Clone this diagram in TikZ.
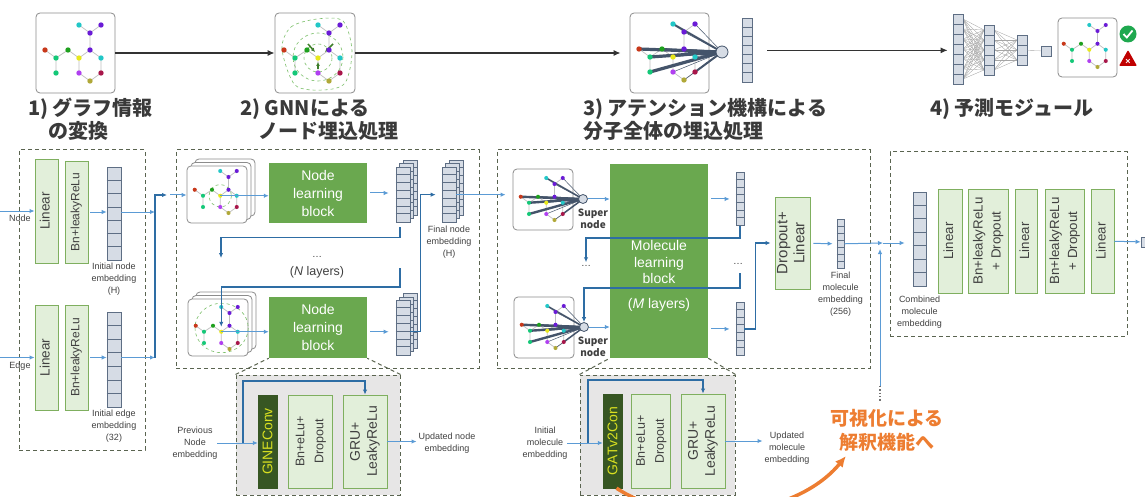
\documentclass[tikz,border=0pt]{standalone}
\usepackage{fontspec}
\usepackage{graphicx}
\setmainfont{Liberation Sans}
\newfontfamily\jpfont{Noto Sans CJK JP}
\usetikzlibrary{arrows.meta,positioning}

\definecolor{grpline}{HTML}{5A6450}
\definecolor{lgreen}{HTML}{E2EFDA}
\definecolor{lgreenline}{HTML}{7FAF5F}
\definecolor{mgreen}{HTML}{6AA84F}
\definecolor{dgreen}{HTML}{375623}
\definecolor{convtxt}{HTML}{D9E021}
\definecolor{vecfill}{HTML}{D6DCE5}
\definecolor{vecline}{HTML}{5E6E84}
\definecolor{lblue}{HTML}{5B9BD5}
\definecolor{dblue}{HTML}{2E6DA4}
\definecolor{ttlgray}{HTML}{3A3A3A}
\definecolor{txtgray}{HTML}{404040}
\definecolor{vizorange}{HTML}{ED7D31}
\definecolor{shade}{HTML}{E7E6E6}
\definecolor{cardline}{HTML}{8C8C8C}
\definecolor{spoke}{HTML}{44546A}
\definecolor{halogreen}{HTML}{7CC06A}
\definecolor{pullgreen}{HTML}{3E7E2A}
\definecolor{okgreen}{HTML}{1FA84F}
\definecolor{ngred}{HTML}{C00000}
% atom colours
\definecolor{acyan}{HTML}{22C7C7}
\definecolor{aviolet}{HTML}{6A1BD6}
\definecolor{ared}{HTML}{C8381A}
\definecolor{agreen}{HTML}{1EA01E}
\definecolor{amint}{HTML}{14C878}
\definecolor{ayellow}{HTML}{E8E81C}
\definecolor{amagenta}{HTML}{B040F0}
\definecolor{amaroon}{HTML}{A8164A}
\definecolor{aolive}{HTML}{B0A838}

\newcommand{\fsz}[2]{\fontsize{#1}{#2}\selectfont}
\newcommand{\vlabel}[1]{\rotatebox{90}{\begin{tabular}{@{}c@{}}#1\end{tabular}}}

\tikzset{
  >={Latex[length=5pt,width=4.5pt]},
  grp/.style={draw=grpline, line width=1pt, dash pattern=on 4pt off 3pt, inner sep=0pt},
  zoombox/.style={grp, fill=shade},
  lbox/.style={draw=lgreenline, fill=lgreen, line width=0.9pt, inner sep=0pt, text=txtgray},
  gblock/.style={fill=mgreen, text=white, inner sep=0pt, align=center, font=\fsz{14}{18}},
  conv/.style={fill=dgreen, draw=dgreen, text=convtxt, inner sep=0pt, font=\fsz{14}{16}},
  vec/.style={draw=vecline, fill=vecfill, line width=0.7pt, inner sep=0pt},
  card/.style={draw=cardline, fill=white, rounded corners=4pt, line width=0.8pt, inner sep=0pt},
  snode/.style={circle, draw=spoke, fill=vecfill, line width=0.8pt, inner sep=0pt},
  flow/.style={->, draw=lblue, line width=1pt},
  ret/.style={->, draw=dblue, line width=1.4pt},
  skipln/.style={->, draw=dblue, line width=1.1pt},
  topflow/.style={-{Latex[length=7pt,width=6pt]}, draw=black!80, line width=1.2pt},
  note/.style={font=\fsz{9}{12}, text=txtgray, align=center, inner sep=0pt},
  snlbl/.style={font=\jpfont\bfseries\fsz{10}{12.5}, text=txtgray, align=center, inner sep=0pt},
  ttl/.style={font=\jpfont\bfseries\fsz{20}{23}, text=ttlgray, align=left, anchor=north west, inner sep=0pt},
  vizlbl/.style={font=\jpfont\bfseries\fsz{19}{24}, text=vizorange, align=center, inner sep=0pt},
  viz/.style={-{Latex[length=11pt,width=10pt]}, draw=vizorange, line width=3.5pt},
  bond/.style={draw=black!25, line width=0.7pt},
  nnline/.style={draw=black!35, line width=0.35pt},
  halo/.style={draw=halogreen, dashed, line width=0.6pt},
  pull/.style={-{Latex[length=4pt,width=4pt]}, draw=pullgreen, line width=1.5pt},
}

% column of embedding cells: name, centre x, top y, width, cell height, cells
\newcommand{\cellcol}[6]{%
  \node[vec, minimum width=#4, minimum height=#5*#6, anchor=north] (#1) at (#2,#3) {};
  \foreach \k in {1,...,#6}{%
    \ifnum\k<#6\relax
      \draw[vecline, line width=0.7pt] ([yshift=-\k*#5pt]#1.north west) -- ([yshift=-\k*#5pt]#1.north east);
    \fi}}
% three stacked columns, front one named
\newcommand{\stackcol}[3]{%
  \cellcol{#1c}{#2+7}{#3-7}{14}{7.8}{7}
  \cellcol{#1b}{#2+3.5}{#3-3.5}{14}{7.8}{7}
  \cellcol{#1}{#2}{#3}{14}{7.8}{7}}
% three stacked graph cards, front one named
\newcommand{\cardstack}[3]{%
  \node[card, minimum width=60, minimum height=57] (#1c) at (#2+8,#3-7) {};
  \node[card, minimum width=60, minimum height=57] (#1b) at (#2+4,#3-3.5) {};
  \node[card, minimum width=60, minimum height=57] (#1) at (#2,#3) {};}
% small molecule graph: origin x, origin y, scale, name of centre atom, extra drawing under the atoms
\newcommand{\molgraph}[5]{%
  \begin{scope}[shift={(#1,#2)}, scale=#3]
    \draw[bond] (43,12) -- (54,20) -- (65,12) (54,20) -- (54,37) -- (43,45) -- (32,37) -- (20,45) -- (9,37)
      (20,45) -- (20,60) (43,45) -- (43,60) -- (54,68) -- (65,60) -- (65,45) -- (54,37);
    #5
    \foreach \ax/\ay/\ac in {43/12/acyan, 65/12/aviolet, 54/20/aviolet, 9/37/ared, 32/37/agreen,
        54/37/aviolet, 20/45/amint, 43/45/ayellow, 65/45/acyan, 20/60/amint, 43/60/amagenta,
        65/60/amaroon, 54/68/aolive}
      \fill[\ac] (\ax,\ay) circle (2.7);
    \coordinate (#4) at (43,45);
  \end{scope}}
% graph with attention spokes to a super node
\newcommand{\attngraph}[6]{%
  \molgraph{#1}{#2}{#3}{#6}{%
    \draw[draw=spoke, line width=#3*3.2pt] (9,37) -- (92,40) (20,45) -- (92,40) (20,60) -- (92,40);
    \draw[draw=spoke, line width=#3*2pt] (43,12) -- (92,40) (32,37) -- (92,40) (65,60) -- (92,40);
    \draw[draw=spoke, line width=0.5pt] (65,12) -- (92,40) (54,20) -- (92,40) (54,37) -- (92,40)
      (43,45) -- (92,40) (65,45) -- (92,40) (43,60) -- (92,40) (54,68) -- (92,40);
    \node[snode, minimum size=#5] (#4) at (92,40) {};}}

\begin{document}
\begin{tikzpicture}[x=1pt, y=-1pt]
  \useasboundingbox (0,0) rectangle (1145,497);

  % ---------- overview row ----------
  \node[card, minimum width=79, minimum height=80] (icon1) at (75.5,53) {};
  \molgraph{36}{13}{1}{g1}{}
  \node[card, minimum width=80, minimum height=80] (icon2) at (315,53) {};
  \molgraph{275}{13}{1}{g2}{%
    \draw[halo] (43,45) circle (14);
    \draw[halo] (43,44) circle [x radius=25, y radius=24];
    \draw[halo] plot[smooth cycle] coordinates {(7,36) (16,14) (42,6) (68,8) (77,38) (70,70) (48,77) (20,72)};
    \draw[pull] (33,31) -- (40,39);
    \draw[pull] (58,31) -- (50,39);
    \draw[pull] (43,56) -- (43,49);}
  \node[card, minimum width=79, minimum height=80] (icon3) at (669.5,53) {};
  \attngraph{630}{12}{1}{sntop}{12}{g3}
  \cellcol{topvec}{747}{18}{10}{9.14}{7}

  \foreach \i in {0,...,6}
    \foreach \j in {0,...,4}
      \draw[nnline] (963,19+10*\i) -- (984,30+10*\j);
  \foreach \i in {0,...,4}
    \foreach \j in {0,...,2}
      \draw[nnline] (994,30+10*\i) -- (1017,40+10*\j);
  \cellcol{nn1}{958}{14}{10}{10}{7}
  \cellcol{nn2}{989}{25}{10}{10}{5}
  \cellcol{nn3}{1022}{35}{10}{10}{3}
  \node[vec, minimum size=10] (nnout) at (1046,51) {};
  \draw[nnline] (nn3) -- (nnout);
  \node[card, minimum width=59, minimum height=59] (icon4) at (1087.5,47.5) {};
  \molgraph{1057}{16}{0.75}{g4}{}

  \node[circle, fill=okgreen, minimum size=17, inner sep=0pt] (okmark) at (1128,34) {};
  \draw[white, line width=1.8pt] ([shift={(-4.5,0)}]okmark.center) -- ([shift={(-1.2,3.5)}]okmark.center) -- ([shift={(4.5,-3.5)}]okmark.center);
  \coordinate (ngmark) at (1128,59);
  \fill[ngred, rounded corners=1pt] ([shift={(-9,7)}]ngmark) -- ([shift={(0,-9)}]ngmark) -- ([shift={(9,7)}]ngmark) -- cycle;
  \node[text=white, font=\bfseries\fsz{9}{9}, inner sep=0pt] (ngx) at ([yshift=-2.5pt]ngmark) {×};

  \draw[topflow] (icon1) -- (icon2);
  \draw[topflow, shorten >=9pt] (icon2) -- (icon3);
  \draw[topflow, shorten <=15pt, shorten >=5pt] (topvec) -- (topvec -| nn1.west);

  \node[ttl] (ttl1) at (28,98) {1) グラフ情報\\\hspace*{20pt}の変換};
  \node[ttl] (ttl2) at (240,98) {2) GNNによる\\\hspace*{18pt}ノード埋込処理};
  \node[ttl] (ttl3) at (583,98) {3) アテンション機構による\\分子全体の埋込処理};
  \node[ttl] (ttl4) at (930,98) {4) 予測モジュール};

  % ---------- input encoding ----------
  \node[grp, minimum width=126, minimum height=300] (encbox) at (82,300) {};
  \node[lbox, minimum width=23, minimum height=104, font=\fsz{13.5}{16}] (lin1) at (46.5,211) {\vlabel{Linear}};
  \node[lbox, minimum width=23, minimum height=102, font=\fsz{12}{14}] (bn1) at (76.5,212) {\vlabel{Bn+leakyReLu}};
  \cellcol{nvec}{114}{167}{14}{13.3}{7}
  \node[note, below=2pt of nvec] (nveclbl) {Initial node\\embedding\\(H)};
  \coordinate (nodein) at (0,211);
  \node[note] (nodelbl) at (20,218) {Node};
  \draw[flow] (nodein) -- (lin1);
  \draw[flow, shorten <=2pt] (bn1.east) -- (bn1.east -| nvec.west);

  \node[lbox, minimum width=23, minimum height=105, font=\fsz{13.5}{16}] (lin2) at (46.5,357.5) {\vlabel{Linear}};
  \node[lbox, minimum width=23, minimum height=105, font=\fsz{12}{14}] (bn2) at (76.5,357.5) {\vlabel{Bn+leakyReLu}};
  \cellcol{evec}{114}{312}{14}{13.6}{7}
  \node[note, below=2pt of evec] (evecLbl) {Initial edge\\embedding\\(32)};
  \coordinate (edgein) at (0,357.5);
  \node[note] (edgelbl) at (20,366) {Edge};
  \draw[flow] (edgein) -- (lin2);
  \draw[flow, shorten <=2pt] (bn2.east) -- (bn2.east -| evec.west);

  \coordinate (joinhi) at (155,195);
  \coordinate (joinlo) at (155,357.5);
  \draw[flow] (nvec.east |- bn1) -- (joinhi |- bn1);
  \draw[flow] (evec.east |- bn2) -- (joinlo);
  \draw[ret] (joinlo) -- (joinhi) -- ++(12,0);

  % ---------- GNN layers ----------
  \node[grp, minimum width=303, minimum height=218] (gnnbox) at (327.5,259) {};
  \cardstack{cardb1}{217}{194.5}
  \molgraph{188}{162}{0.75}{ctr1}{\draw[halo] (43,45) circle (15);}
  \draw[flow] ([xshift=15pt]joinhi) -- (joinhi -| cardb1.west);
  \node[gblock, minimum width=98, minimum height=60] (nlb1) at (318,193) {Node\\learning\\block};
  \draw[flow] (ctr1) -- (ctr1 -| nlb1.west);
  \stackcol{sv1}{403}{167}
  \draw[flow, shorten <=3pt, shorten >=7pt] (nlb1.east) -- (nlb1.east -| sv1.west);

  \node[note, font=\fsz{10}{12}] (ndots) at (317,257) {\ldots};
  \node[note, font=\fsz{12.5}{15}] (nlayers) at (317,272) {(\textit{N} layers)};

  \cardstack{cardb2}{218}{327.5}
  \molgraph{189}{298}{0.75}{ctr2}{\draw[halo] (43.5,40) circle [x radius=35.5, y radius=33];}
  \node[gblock, minimum width=98, minimum height=61] (nlb2) at (318,327.5) {Node\\learning\\block};
  \draw[flow] (ctr2) -- (ctr2 -| nlb2.west);
  \stackcol{sv2}{403}{300}
  \draw[flow, shorten <=3pt, shorten >=7pt] (nlb2.east |- ctr2) -- (ctr2 -| sv2.west);

  \stackcol{fnv}{449}{167}
  \node[note, below=3pt of fnv] (fnvlbl) {Final node\\embedding\\(H)};
  \draw[ret, shorten >=6pt] (sv2.east |- ctr2) -- ++(10,0) |- (fnv.west);

  \coordinate (nloopend) at (221,258);
  \coordinate (nret) at (400,268);
  \draw[ret] (sv1.south) ++(-3,5) -- ++(0,10) -| (nloopend);
  \draw[ret, shorten >=5pt] (nret) -- ++(0,19) -| (ctr2);

  % ---------- molecule attention ----------
  \node[grp, minimum width=373, minimum height=218] (molbox) at (683.5,259) {};
  \node[card, minimum width=60, minimum height=61] (cardc1) at (543,199.5) {};
  \attngraph{514}{169}{0.75}{sn1}{9}{gc1}
  \node[snlbl] (sn1lbl) at (593,219) {Super\\node};
  \draw[flow, shorten >=7pt] (fnv.east) -- (fnv.east -| cardc1.west);

  \node[card, minimum width=60, minimum height=61] (cardc2) at (544,327.5) {};
  \attngraph{515}{297}{0.75}{sn2}{9}{gc2}
  \node[snlbl] (sn2lbl) at (593,347) {Super\\node};

  \node[gblock, minimum width=98, minimum height=194] (mlb) at (659,261) {};
  \node[gblock, fill=none, font=\fsz{14}{16.5}] (mlbtxt) at (659,276) {Molecule\\learning\\block\\[8pt](\textit{M} layers)};
  \draw[flow] (sn1) -- (sn1 -| mlb.west);
  \draw[flow] (sn2) -- (sn2 -| mlb.west);

  \cellcol{mv1}{740}{172}{8}{7.6}{7}
  \cellcol{mv2}{740}{302}{8}{7.6}{7}
  \draw[flow, shorten <=3pt, shorten >=6pt] (mlb.east |- mv1) -- (mv1);
  \draw[flow, shorten <=3pt, shorten >=6pt] (mlb.east |- mv2) -- (mv2);
  \node[note, font=\fsz{10}{12}] (mdotsl) at (586,266) {\ldots};
  \node[note, font=\fsz{10}{12}] (mdotsr) at (738,264) {\ldots};
  \coordinate (mret) at (740,273);
  \draw[ret, shorten >=3pt] (mv1.south) -- ++(0,12) -| (mdotsl.north);
  \draw[ret] (mret) -- ++(0,15) -| (sn2.north);

  \node[lbox, minimum width=35, minimum height=92, font=\fsz{15}{17}] (dl) at (792.5,243) {\vlabel{Dropout+\\Linear}};
  \draw[ret, shorten >=4pt] (mv2.east) -- ++(11,0) |- (dl.west);
  \cellcol{fmv}{840.5}{219}{7}{7}{7}
  \draw[flow, shorten <=3pt, shorten >=4pt] (dl) -- (fmv);
  \node[note, below=3pt of fmv] (fmvlbl) {Final\\molecule\\embedding\\(256)};

  % ---------- prediction ----------
  \coordinate (mergeh) at (883,243);
  \coordinate (mergev) at (880,249);
  \coordinate (vizsrc) at (880,386);
  \coordinate (vizend) at (880,402);
  \draw[flow] (fmv) -- (mergeh);
  \draw[flow] (vizsrc) -- (mergev);
  \draw[dotted, line width=1.3pt, black!55] (vizsrc) -- (vizend);

  \node[grp, minimum width=237, minimum height=184] (predbox) at (1008.5,244) {};
  \cellcol{cmv}{919.5}{192}{13}{13.4}{7}
  \draw[flow, shorten >=8pt] (mergeh) -- (mergeh -| cmv.west);
  \node[note, below=9pt of cmv] (cmvlbl) {Combined\\molecule\\embedding};
  \node[lbox, minimum width=24, minimum height=104, font=\fsz{13.3}{16}] (lin3) at (950,241) {\vlabel{Linear}};
  \node[lbox, minimum width=40, minimum height=104, font=\fsz{13.3}{18}] (bn3) at (988,241) {\vlabel{Bn+leakyReLu\\+ Dropout}};
  \node[lbox, minimum width=22, minimum height=104, font=\fsz{13.3}{16}] (lin4) at (1026,241) {\vlabel{Linear}};
  \node[lbox, minimum width=39, minimum height=104, font=\fsz{13.3}{18}] (bn4) at (1064.5,241) {\vlabel{Bn+leakyReLu\\+ Dropout}};
  \node[lbox, minimum width=23, minimum height=104, font=\fsz{13.3}{16}] (lin5) at (1102.5,241) {\vlabel{Linear}};
  \node[vec, minimum size=10] (outsq) at (1146,242) {};
  \draw[flow] (lin5) -- (outsq);

  % ---------- layer details ----------
  \node[zoombox, minimum width=164, minimum height=120] (gineE) at (318,435) {};
  \draw[grp] (gineE.north west) -- (nlb2.south west);
  \draw[grp] (gineE.north east) -- (nlb2.south east);
  \node[conv, minimum width=19, minimum height=93] (conv1) at (267.5,441.5) {\rotatebox{90}{GINEConv}};
  \node[lbox, minimum width=44, minimum height=93, font=\fsz{12.5}{19}] (bne1) at (310,441.5) {\vlabel{Bn+eLu+\\Dropout}};
  \node[lbox, minimum width=44, minimum height=93, font=\fsz{14}{17}] (gru1) at (365,441.5) {\vlabel{GRU+\\LeakyReLu}};
  \node[note] (prevn) at (195,443) {Previous\\Node\\embedding};
  \draw[flow] (prevn.east) -- (prevn.east -| conv1.west);
  \coordinate (skipe) at (243,443);
  \draw[skipln] (skipe) -- ++(0,-62) -| (gru1.north);
  \node[note] (updn) at (447,443) {Updated node\\embedding};
  \draw[flow, shorten >=2pt] (gru1.east) -- (gru1.east -| updn.west);

  \node[zoombox, minimum width=155, minimum height=120] (gatF) at (657.5,435) {};
  \draw[grp] (gatF.north west) -- (mlb.south west);
  \draw[grp] (gatF.north east) -- (mlb.south east);
  \node[conv, minimum width=19, minimum height=94] (conv2) at (612.5,441) {\rotatebox{90}{GATv2Con}};
  \node[lbox, minimum width=39, minimum height=94, font=\fsz{12.5}{19}] (bne2) at (650.5,441) {\vlabel{Bn+eLu+\\Dropout}};
  \node[lbox, minimum width=44, minimum height=94, font=\fsz{14}{17}] (gru2) at (703,441) {\vlabel{GRU+\\LeakyReLu}};
  \node[note] (initm) at (545,443) {Initial\\molecule\\embedding};
  \draw[flow] (initm.east) -- (initm.east -| conv2.west);
  \coordinate (skipf) at (588,443);
  \draw[skipln] (skipf) -- ++(0,-63) -| (gru2.north);
  \node[note] (updm) at (787,448) {Updated\\molecule\\embedding};
  \draw[flow, shorten >=2pt] (gru2.east) -- (gru2.east -| updm.west);

  % ---------- towards interpretation ----------
  \coordinate (viztip) at (846,456);
  \draw[viz] ([xshift=4pt]conv2.south) .. controls (680,530) and (795,518) .. (viztip);
  \node[vizlbl] (vizlbl) at (887,430) {可視化による\\解釈機能へ};
\end{tikzpicture}
\end{document}
